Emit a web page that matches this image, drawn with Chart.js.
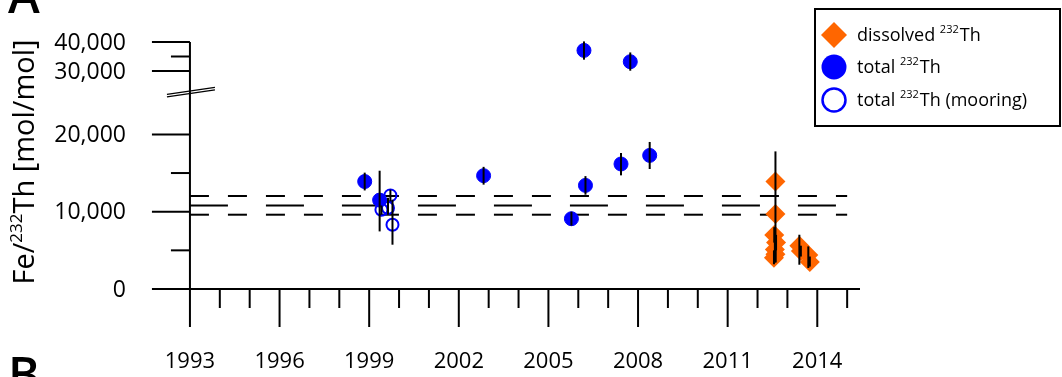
<!DOCTYPE html>
<html>
<head>
<meta charset="utf-8">
<script src="https://cdn.jsdelivr.net/npm/chart.js@4.4.1/dist/chart.umd.min.js"></script>
<style>
  html, body { margin: 0; padding: 0; background: #fff; }
  #wrap { width: 1062px; height: 377px; }
</style>
</head>
<body>
<div id="wrap"><canvas id="chart" width="1062" height="377"></canvas></div>
<script>
// data: Fe/232Th ratios [mol/mol]
const totalYears = [1998.85, 1999.35, 2002.83, 2005.77, 2006.24, 2006.19, 2007.74, 2007.43, 2008.39];
const totalVals  = [13900, 11500, 14660, 9090, 13400, 37100, 33200, 16170, 17280];
const totalLo    = [12750, 7450, 13500, 8200, 12200, 33900, 30100, 14700, 15520];
const totalHi    = [15050, 15300, 15800, 10000, 14600, 40200, 36400, 17590, 19020];

const mooringYears = [1999.71, 1999.41, 1999.63, 1999.78];
const mooringVals  = [12110, 10260, 10480, 8320];
const mooringLo    = [11330, 9700, 9610, 5730];
const mooringHi    = [12850, 10800, 11810, 11550];

const dissolvedYears = [2012.6, 2012.6, 2012.56, 2012.62, 2012.58, 2012.6, 2012.55, 2013.4, 2013.45, 2013.7, 2013.75];
const dissolvedVals  = [13920, 9700, 7000, 6000, 5100, 4500, 4050, 5600, 4900, 4400, 3500];
const dissolvedLo    = [13920, 3400, 6000, 5000, 3800, 3500, 3200, 3140, 4200, 2720, 2900];
const dissolvedHi    = [13920, 17800, 8000, 7000, 6400, 5600, 5000, 7020, 5600, 5510, 4200];

// mean and +/- 1 SD of the older data
const meanRatio = 10800;
const sdUpper = 12030;
const sdLower = 9610;

const xTickYears = [1993, 1996, 1999, 2002, 2005, 2008, 2011, 2014];
const yTickMajor = [0, 10000, 20000, 30000, 40000];
const yTickMinor = [5000, 15000, 35000];

// broken y axis: 0-25,500 linear, then 30,000-40,000 squeezed
const UPPER_START = 30000;
const UPPER_BASE = 28200;
const UPPER_RATIO = 0.375;
const BREAK_AT = 25500;
function brk(v) {
  return v >= 27000 ? UPPER_BASE + (v - UPPER_START) * UPPER_RATIO : v;
}

const X_MIN = 1991.73;
const X_MAX = 2015.43;

const FONT = '"Open Sans", "DejaVu Sans", sans-serif';
const ORANGE = '#ff6600';
const BLUE = '#0000ff';

function pts(years, vals) {
  return years.map((yr, i) => ({ x: yr, y: brk(vals[i]) }));
}
function hline(v) {
  return [{ x: 1993, y: brk(v) }, { x: 2015, y: brk(v) }];
}
function line(ctx, x1, y1, x2, y2) {
  ctx.beginPath();
  ctx.moveTo(x1, y1);
  ctx.lineTo(x2, y2);
  ctx.stroke();
}

// axes in the Igor style: long/short ticks outside, axis break
const axesPlugin = {
  id: 'brokenAxes',
  beforeDatasetsDraw(chart) {
    const { ctx, scales: { x, y } } = chart;
    const y0 = y.getPixelForValue(0);
    const ax = x.getPixelForValue(1993);
    ctx.save();
    ctx.strokeStyle = '#000';
    ctx.lineWidth = 2;
    line(ctx, x.left, y0, x.right, y0);
    for (let yr = 1993; yr <= 2015; yr++) {
      const px = x.getPixelForValue(yr);
      const len = (yr - 1993) % 3 === 0 ? 38 : 19;
      line(ctx, px, y0, px, y0 + len);
    }
    line(ctx, ax, y.getPixelForValue(brk(40000)), ax, y0);
    yTickMajor.forEach(v => {
      const py = y.getPixelForValue(brk(v));
      line(ctx, ax - 38, py, ax, py);
    });
    yTickMinor.forEach(v => {
      const py = y.getPixelForValue(brk(v));
      line(ctx, ax - 19, py, ax, py);
    });
    // break marks
    const pb = y.getPixelForValue(BREAK_AT);
    ctx.lineWidth = 1.3;
    line(ctx, ax - 23, pb + 2.5, ax + 25, pb - 4.5);
    line(ctx, ax - 23, pb + 5, ax + 25, pb - 2);

    ctx.fillStyle = '#000';
    ctx.font = '22px ' + FONT;
    ctx.textAlign = 'center';
    ctx.textBaseline = 'middle';
    xTickYears.forEach(yr => ctx.fillText(String(yr), x.getPixelForValue(yr), 362));
    ctx.font = '23px ' + FONT;
    ctx.textAlign = 'right';
    yTickMajor.forEach(v => {
      ctx.fillText(v.toLocaleString('en-US'), 126, y.getPixelForValue(brk(v)) + 1);
    });

    // y title, rotated
    ctx.save();
    ctx.translate(26, 162);
    ctx.rotate(-Math.PI / 2);
    const parts = [['Fe/', 29, 0], ['232', 17, -9], ['Th [mol/mol]', 29, 0]];
    let total = 0;
    parts.forEach(p => { ctx.font = p[1] + 'px ' + FONT; total += ctx.measureText(p[0]).width; });
    let cx = -total / 2;
    ctx.textAlign = 'left';
    parts.forEach(p => {
      ctx.font = p[1] + 'px ' + FONT;
      ctx.fillText(p[0], cx, p[2]);
      cx += ctx.measureText(p[0]).width;
    });
    ctx.restore();

    // panel letters (cropped in the figure)
    ctx.textAlign = 'left';
    ctx.textBaseline = 'alphabetic';
    ctx.font = '600 48px ' + FONT;
    ctx.fillText('A', 8, 13);
    ctx.fillText('B', 8, 392);
    ctx.restore();
  }
};

// vertical error bars drawn over the markers
const errorPlugin = {
  id: 'errorBars',
  afterDatasetsDraw(chart) {
    const { ctx, scales: { x, y } } = chart;
    const sets = [
      [totalYears, totalLo, totalHi],
      [mooringYears, mooringLo, mooringHi],
      [dissolvedYears, dissolvedLo, dissolvedHi]
    ];
    ctx.save();
    ctx.strokeStyle = '#000';
    ctx.lineWidth = 2;
    sets.forEach(([yrs, lo, hi]) => {
      yrs.forEach((yr, i) => {
        if (hi[i] === lo[i]) return;
        const px = x.getPixelForValue(yr);
        line(ctx, px, y.getPixelForValue(brk(lo[i])), px, y.getPixelForValue(brk(hi[i])));
      });
    });
    ctx.restore();
  }
};

const legendPlugin = {
  id: 'boxLegend',
  afterDraw(chart) {
    const ctx = chart.ctx;
    ctx.save();
    ctx.fillStyle = '#fff';
    ctx.fillRect(815, 9, 245, 117);
    ctx.strokeStyle = '#000';
    ctx.lineWidth = 2;
    ctx.strokeRect(815, 9, 245, 117);

    const mx = 834;
    // diamond
    ctx.fillStyle = ORANGE;
    ctx.beginPath();
    ctx.moveTo(mx - 13, 35); ctx.lineTo(mx, 22); ctx.lineTo(mx + 13, 35); ctx.lineTo(mx, 48);
    ctx.closePath();
    ctx.fill();
    // filled circle
    ctx.fillStyle = BLUE;
    ctx.beginPath(); ctx.arc(mx, 67, 12.5, 0, Math.PI * 2); ctx.fill();
    // open circle
    ctx.strokeStyle = BLUE;
    ctx.lineWidth = 2.5;
    ctx.beginPath(); ctx.arc(mx, 100, 11.5, 0, Math.PI * 2); ctx.stroke();

    const rows = [['dissolved ', '', 36], ['total ', '', 68], ['total ', ' (mooring)', 101]];
    ctx.fillStyle = '#000';
    ctx.textBaseline = 'middle';
    ctx.textAlign = 'left';
    rows.forEach(([pre, post, ty]) => {
      let tx = 857;
      ctx.font = '18px ' + FONT;
      ctx.fillText(pre, tx, ty);
      tx += ctx.measureText(pre).width;
      ctx.font = '11px ' + FONT;
      ctx.fillText('232', tx, ty - 6);
      tx += ctx.measureText('232').width + 1;
      ctx.font = '18px ' + FONT;
      ctx.fillText('Th' + post, tx, ty);
    });
    ctx.restore();
  }
};

new Chart(document.getElementById('chart'), {
  type: 'scatter',
  data: {
    datasets: [
      { type: 'line', data: hline(meanRatio), borderColor: '#000', borderWidth: 2, borderDash: [38, 38], pointRadius: 0, order: 10 },
      { type: 'line', data: hline(sdUpper), borderColor: '#000', borderWidth: 2, borderDash: [19, 19], pointRadius: 0, order: 10 },
      { type: 'line', data: hline(sdLower), borderColor: '#000', borderWidth: 2, borderDash: [19, 19], pointRadius: 0, order: 10 },
      { label: 'total 232Th', data: pts(totalYears, totalVals), pointStyle: 'circle', pointRadius: 7, borderWidth: 1, backgroundColor: BLUE, borderColor: BLUE, order: 2 },
      { label: 'total 232Th (mooring)', data: pts(mooringYears, mooringVals), pointStyle: 'circle', pointRadius: 6, borderWidth: 2, backgroundColor: 'rgba(0,0,0,0)', borderColor: BLUE, order: 1 },
      { label: 'dissolved 232Th', data: pts(dissolvedYears, dissolvedVals), pointStyle: 'rectRot', pointRadius: 10, borderWidth: 0, backgroundColor: ORANGE, borderColor: ORANGE, order: 1 }
    ]
  },
  options: {
    responsive: false,
    animation: false,
    devicePixelRatio: 1,
    layout: { padding: { left: 152, right: 202, top: 42, bottom: 88 } },
    scales: {
      x: { type: 'linear', min: X_MIN, max: X_MAX, display: false },
      y: { type: 'linear', min: 0, max: brk(40000), display: false }
    },
    plugins: { legend: { display: false }, tooltip: { enabled: false } }
  },
  plugins: [axesPlugin, errorPlugin, legendPlugin]
});
</script>
</body>
</html>
